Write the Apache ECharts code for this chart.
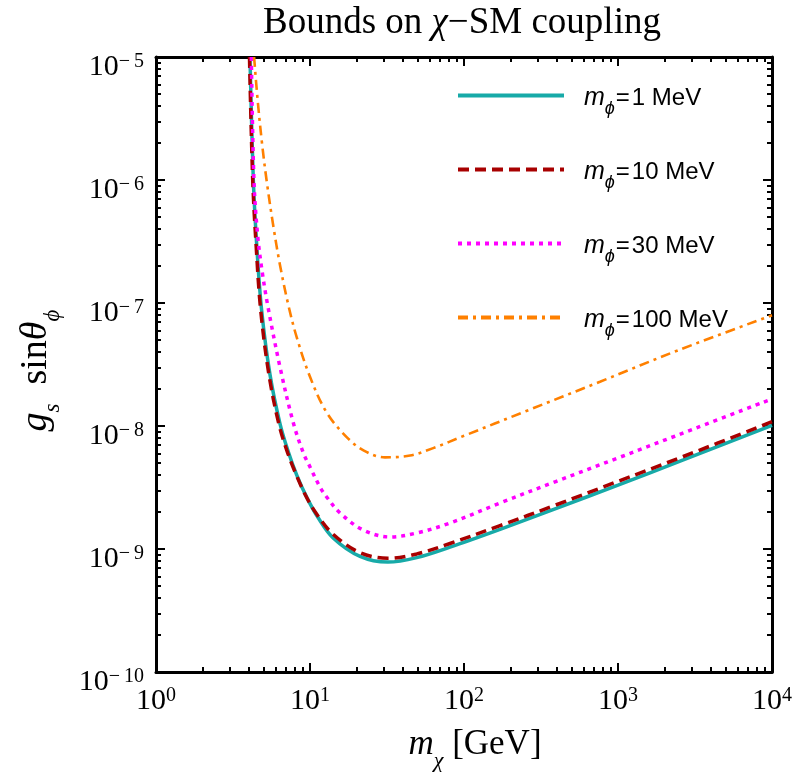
<!DOCTYPE html>
<html>
<head>
<meta charset="utf-8">
<script src="https://cdn.jsdelivr.net/npm/echarts@6/dist/echarts.min.js"></script>
<style>
  html, body { margin: 0; padding: 0; background: #ffffff; }
  #chart { width: 798px; height: 780px; }
</style>
</head>
<body>
<div id="chart"></div>
<script>
// Dark-matter mass m_chi (GeV) and upper bound on g_s sin(theta_phi), one pair per mediator mass
const mass1MeV = [4.074, 4.285, 4.519, 4.853, 5.495, 6.383, 7.228, 8.204, 9.528, 11.22, 14.13, 21.13, 32.06, 49.32, 81.10, 171.4, 398.1, 1000, 2655, 10000];
const bound1MeV = [1.0e-5, 1.0e-6, 2.82e-7, 8.71e-8, 2.63e-8, 1.047e-8, 6.17e-9, 3.98e-9, 2.63e-9, 1.82e-9, 1.23e-9, 8.71e-10, 7.83e-10, 8.51e-10, 1.035e-9, 1.445e-9, 2.14e-9, 3.31e-9, 5.30e-9, 1.012e-8];

const mass10MeV = [4.046, 4.246, 4.477, 4.786, 5.408, 6.266, 7.079, 8.035, 9.333, 10.96, 14.13, 21.13, 32.06, 49.32, 81.10, 171.4, 398.1, 1000, 2655, 10000];
const bound10MeV = [1.0e-5, 1.0e-6, 2.82e-7, 8.71e-8, 2.63e-8, 1.047e-8, 6.31e-9, 4.17e-9, 2.75e-9, 1.95e-9, 1.318e-9, 9.33e-10, 8.41e-10, 9.12e-10, 1.109e-9, 1.549e-9, 2.29e-9, 3.55e-9, 5.65e-9, 1.084e-8];

const mass30MeV = [4.159, 4.325, 4.571, 4.898, 5.333, 6.383, 7.798, 9.057, 10.0, 11.61, 12.82, 15.67, 22.18, 33.04, 49.32, 81.10, 171.4, 398.1, 1000, 3162, 10000];
const bound30MeV = [1.0e-5, 1.0e-6, 3.55e-7, 1.778e-7, 9.33e-8, 3.02e-8, 1.057e-8, 6.03e-9, 4.65e-9, 3.19e-9, 2.65e-9, 1.963e-9, 1.426e-9, 1.253e-9, 1.349e-9, 1.626e-9, 2.366e-9, 3.55e-9, 5.50e-9, 9.55e-9, 1.66e-8];

const mass100MeV = [4.335, 4.571, 4.898, 5.248, 5.754, 6.383, 7.244, 8.204, 10.0, 12.82, 17.30, 22.39, 30.69, 44.67, 63.10, 100, 251.2, 763.8, 2512, 10000];
const bound100MeV = [1.0e-5, 4.47e-6, 1.905e-6, 9.55e-7, 4.37e-7, 2.04e-7, 9.55e-8, 5.25e-8, 2.51e-8, 1.288e-8, 8.13e-9, 6.31e-9, 5.56e-9, 5.75e-9, 6.61e-9, 8.32e-9, 1.318e-8, 2.29e-8, 4.17e-8, 7.94e-8];

const seriesNames = ['1 MeV', '10 MeV', '30 MeV', '100 MeV'];

// Axis ticks and their labels (exponent of 10)
const xMajorTicks = [1, 10, 100, 1000, 10000];
const xTickExponents = ['0', '1', '2', '3', '4'];
const xMinorTicks = [2, 3, 4, 5, 6, 7, 8, 9, 20, 30, 40, 50, 60, 70, 80, 90, 200, 300, 400, 500, 600, 700, 800, 900, 2000, 3000, 4000, 5000, 6000, 7000, 8000, 9000];
const yMajorTicks = [1e-10, 1e-9, 1e-8, 1e-7, 1e-6, 1e-5];
const yTickExponents = ['\u2212\u200910', '\u2212\u20099', '\u2212\u20098', '\u2212\u20097', '\u2212\u20096', '\u2212\u20095'];
const yMinorTicks = [2e-10, 3e-10, 4e-10, 5e-10, 6e-10, 7e-10, 8e-10, 9e-10, 2e-9, 3e-9, 4e-9, 5e-9, 6e-9, 7e-9, 8e-9, 9e-9, 2e-8, 3e-8, 4e-8, 5e-8, 6e-8, 7e-8, 8e-8, 9e-8, 2e-7, 3e-7, 4e-7, 5e-7, 6e-7, 7e-7, 8e-7, 9e-7, 2e-6, 3e-6, 4e-6, 5e-6, 6e-6, 7e-6, 8e-6, 9e-6];

function zip(xs, ys) { return xs.map((x, i) => [x, ys[i]]); }

const SERIF = '"Liberation Serif", "Times New Roman", serif';
const SANS = '"Liberation Sans", Arial, "DejaVu Sans", sans-serif';

const powerRich = {
  b: { fontFamily: SERIF, fontSize: 30, color: '#000', lineHeight: 30, verticalAlign: 'bottom' },
  s: { fontFamily: SERIF, fontSize: 20, color: '#000', lineHeight: 20, verticalAlign: 'top' }
};

function powerLabel(ticks, exps) {
  return function (v) {
    let best = 0;
    for (let i = 1; i < ticks.length; i++) {
      if (Math.abs(Math.log10(ticks[i]) - Math.log10(v)) < Math.abs(Math.log10(ticks[best]) - Math.log10(v))) best = i;
    }
    return '{b|10}{s|' + exps[best] + '}';
  };
}

const frameLine = { show: true, lineStyle: { color: '#000', width: 3 } };
const tickStyle = { color: '#000', width: 2 };

function xAx(position, ticks, len, withLine, withLabel) {
  const ax = {
    type: 'log', logBase: 10, min: 1, max: 10000, position: position,
    axisLine: withLine ? frameLine : { show: false },
    axisTick: { show: true, inside: true, length: len, lineStyle: tickStyle, customValues: ticks },
    axisLabel: { show: false },
    splitLine: { show: false }, minorTick: { show: false }
  };
  if (withLabel) {
    ax.axisLabel = {
      show: true, margin: 14, customValues: ticks,
      formatter: powerLabel(xMajorTicks, xTickExponents), rich: powerRich
    };
    ax.name = '{i|m}{c|\u03C7}{r| [GeV]}';
    ax.nameLocation = 'middle';
    ax.nameGap = 54;
    ax.nameTextStyle = {
      padding: [0, 0, 0, 22],
      rich: {
        i: { fontFamily: SERIF, fontStyle: 'italic', fontSize: 35, color: '#000', lineHeight: 38, verticalAlign: 'middle' },
        c: { fontFamily: SERIF, fontStyle: 'italic', fontSize: 22, color: '#000', lineHeight: 22, verticalAlign: 'bottom', padding: [0, 0, -8, 0] },
        r: { fontFamily: SERIF, fontSize: 35, color: '#000', lineHeight: 38, verticalAlign: 'middle' }
      }
    };
  }
  return ax;
}

function yAx(position, ticks, len, withLine, withLabel) {
  const ax = {
    type: 'log', logBase: 10, min: 1e-10, max: 1e-5, position: position,
    axisLine: withLine ? frameLine : { show: false },
    axisTick: { show: true, inside: true, length: len, lineStyle: tickStyle, customValues: ticks },
    axisLabel: { show: false },
    splitLine: { show: false }, minorTick: { show: false }
  };
  if (withLabel) {
    ax.axisLabel = {
      show: true, margin: 12, customValues: ticks, padding: [20, 0, 0, 0],
      formatter: powerLabel(yMajorTicks, yTickExponents), rich: powerRich
    };
    ax.name = '{i|g}{c|s}{r|  sin}{i|\u03B8}{c|\u03D5}';
    ax.nameLocation = 'middle';
    ax.nameRotate = 90;
    ax.nameGap = 100;
    ax.nameTextStyle = {
      padding: [0, 12, 0, 0],
      rich: {
        i: { fontFamily: SERIF, fontStyle: 'italic', fontSize: 38, color: '#000', lineHeight: 40, verticalAlign: 'middle' },
        c: { fontFamily: SERIF, fontStyle: 'italic', fontSize: 23, color: '#000', lineHeight: 23, verticalAlign: 'bottom', padding: [0, 0, -8, 0] },
        r: { fontFamily: SERIF, fontSize: 38, color: '#000', lineHeight: 40, verticalAlign: 'middle' }
      }
    };
  }
  return ax;
}

function curve(name, xs, ys, color, width, dash) {
  return {
    name: name, type: 'line', xAxisIndex: 0, yAxisIndex: 0,
    data: zip(xs, ys),
    smooth: 0.35,
    symbol: 'none', showSymbol: false, clip: true,
    lineStyle: { color: color, width: width, type: dash, cap: 'butt' },
    itemStyle: { color: color },
    emphasis: { disabled: true },
    animation: false
  };
}

const chart = echarts.init(document.getElementById('chart'), null, { renderer: 'canvas' });

chart.setOption({
  backgroundColor: '#ffffff',
  animation: false,
  title: {
    text: '{r|Bounds on }{i|\u03C7}{r|\u2212SM coupling}',
    left: 263, top: 2, padding: 0,
    textStyle: {
      fontWeight: 'normal',
      rich: {
        r: { fontFamily: SERIF, fontWeight: 'normal', fontSize: 37, color: '#000', lineHeight: 42 },
        i: { fontFamily: SERIF, fontWeight: 'normal', fontStyle: 'italic', fontSize: 37, color: '#000', lineHeight: 42 }
      }
    }
  },
  grid: { left: 156, right: 26, top: 57, bottom: 108, containLabel: false },
  legend: {
    orient: 'vertical', left: 456, top: 80, padding: 0,
    itemWidth: 106, itemHeight: 28, itemGap: 36.5,
    selectedMode: false,
    itemStyle: { opacity: 0 },
    lineStyle: { width: 4 },
    data: seriesNames,
    formatter: function (n) { return '{sp|}{m|m}{p|\u03D5}{e|=}{t|' + n + '}'; },
    textStyle: {
      rich: {
        sp: { width: 15 },
        m: { fontFamily: SANS, fontStyle: 'italic', fontSize: 25, color: '#000', lineHeight: 28, verticalAlign: 'middle', padding: [6, 0, 0, 0] },
        p: { fontFamily: SANS, fontStyle: 'italic', fontSize: 18, color: '#000', lineHeight: 18, verticalAlign: 'bottom', padding: [0, 0, -8, 0] },
        e: { fontFamily: SANS, fontSize: 24, color: '#000', lineHeight: 28, verticalAlign: 'middle', padding: [6, 2, 0, 1] },
        t: { fontFamily: SANS, fontSize: 24, color: '#000', lineHeight: 28, verticalAlign: 'middle', padding: [6, 0, 0, 0] }
      }
    }
  },
  xAxis: [
    xAx('bottom', xMajorTicks, 9, true, true),
    xAx('bottom', xMinorTicks, 5, false, false),
    xAx('top', xMajorTicks, 9, true, false),
    xAx('top', xMinorTicks, 5, false, false)
  ],
  yAxis: [
    yAx('left', yMajorTicks, 9, true, true),
    yAx('left', yMinorTicks, 5, false, false),
    yAx('right', yMajorTicks, 9, true, false),
    yAx('right', yMinorTicks, 5, false, false)
  ],
  series: [
    curve(seriesNames[0], mass1MeV, bound1MeV, '#17aaa8', 3.5, 'solid'),
    curve(seriesNames[1], mass10MeV, bound10MeV, '#a80000', 3.5, [11, 6]),
    curve(seriesNames[2], mass30MeV, bound30MeV, '#ff00ff', 3.5, [4, 5]),
    curve(seriesNames[3], mass100MeV, bound100MeV, '#ff8000', 2.6, [10, 5, 3, 5])
  ]
});
</script>
</body>
</html>
